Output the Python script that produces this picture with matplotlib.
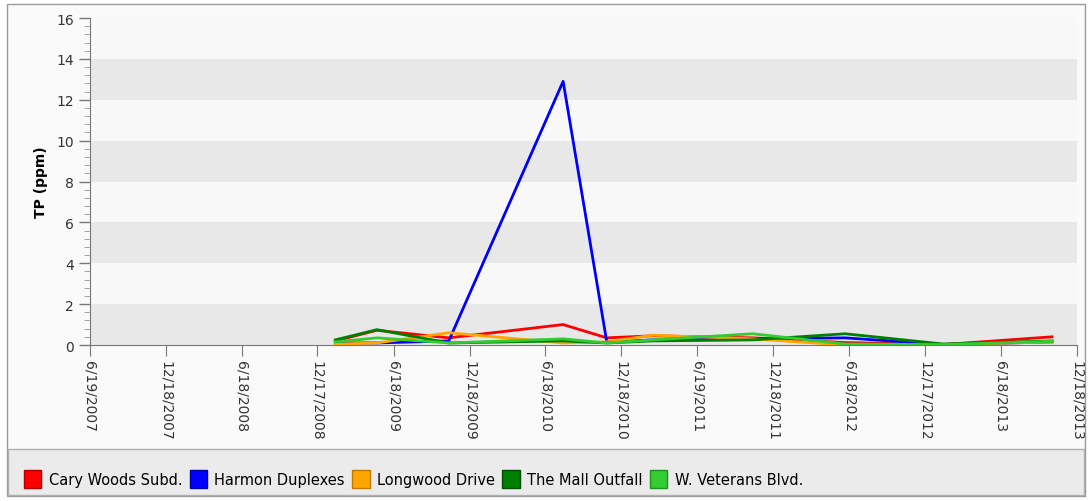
import matplotlib
matplotlib.use("Agg")
import matplotlib.pyplot as plt
import matplotlib.dates as mdates
from matplotlib.patches import Patch, Rectangle
from matplotlib.ticker import MultipleLocator
from datetime import datetime

# sample dates
dates = ["2009-01-29", "2009-05-09", "2009-10-29", "2010-07-31", "2010-11-13",
         "2011-03-04", "2011-10-30", "2012-06-08", "2013-01-29", "2013-10-19"]

cary_woods = [0.20, 0.72, 0.35, 1.00, 0.35, 0.45, 0.35, 0.12, 0.02, 0.40]
harmon = [0.10, 0.10, 0.20, 12.9, 0.15, 0.25, 0.30, 0.35, 0.02, 0.15]
longwood = [0.05, 0.10, 0.60, 0.10, 0.15, 0.48, 0.30, 0.00, 0.02, 0.15]
mall_outfall = [0.25, 0.75, 0.10, 0.20, 0.10, 0.20, 0.25, 0.55, 0.05, 0.20]
veterans = [0.15, 0.35, 0.10, 0.30, 0.10, 0.25, 0.55, 0.05, 0.02, 0.18]

series_names = ["Cary Woods Subd.", "Harmon Duplexes", "Longwood Drive",
                "The Mall Outfall", "W. Veterans Blvd."]
series_colors = ["#ff0000", "#0000ff", "#ffa500", "#008000", "#33cc33"]
edge_colors = ["#b00000", "#0000a0", "#c07800", "#004d00", "#1f8f1f"]

tick_dates = ["2007-06-19", "2007-12-18", "2008-06-18", "2008-12-17", "2009-06-18",
              "2009-12-18", "2010-06-18", "2010-12-18", "2011-06-19", "2011-12-18",
              "2012-06-18", "2012-12-17", "2013-06-18", "2013-12-18"]
tick_labels = ["6/19/2007", "12/18/2007", "6/18/2008", "12/17/2008", "6/18/2009",
               "12/18/2009", "6/18/2010", "12/18/2010", "6/19/2011", "12/18/2011",
               "6/18/2012", "12/17/2012", "6/18/2013", "12/18/2013"]

x = [datetime.strptime(d, "%Y-%m-%d") for d in dates]
xt = [datetime.strptime(d, "%Y-%m-%d") for d in tick_dates]

W, H = 1091, 502
fig = plt.figure(figsize=(W / 100, H / 100), dpi=100)
fig.patch.set_facecolor("white")

# outer chart frame and legend band
fig.patches.append(Rectangle((7 / W, 1 - 497 / H), (1085 - 7) / W, (497 - 5) / H,
                             transform=fig.transFigure, facecolor="#fafafa",
                             edgecolor="#9a9a9a", linewidth=1, zorder=-2))
fig.patches.append(Rectangle((8 / W, 1 - 496 / H), (1084 - 8) / W, (496 - 450) / H,
                             transform=fig.transFigure, facecolor="#ebebeb",
                             edgecolor="#b0b0b0", linewidth=1, zorder=-1))

ax = fig.add_axes([90 / W, 1 - 346 / H, (1077 - 90) / W, (346 - 19) / H])
ax.set_zorder(2)
ax.set_facecolor("#f8f8f8")

# alternating bands
for lo in range(0, 16, 4):
    ax.axhspan(lo, lo + 2, color="#e8e8e8", zorder=0, linewidth=0)

for vals, c in zip([cary_woods, harmon, longwood, mall_outfall, veterans], series_colors):
    ax.plot(x, vals, color=c, linewidth=2, zorder=3)

ax.set_ylim(0, 16)
ax.set_xlim(xt[0], xt[-1])
ax.yaxis.set_major_locator(MultipleLocator(2))
ax.yaxis.set_minor_locator(MultipleLocator(0.4))
ax.set_xticks(mdates.date2num(xt))
ax.set_xticklabels(tick_labels, rotation=270, fontsize=10, color="#333333")
ax.tick_params(axis="y", labelsize=10, labelcolor="#333333", color="#777777",
               length=8, width=1)
ax.tick_params(axis="y", which="minor", length=4, color="#999999")
ax.tick_params(axis="x", length=8, color="#777777", pad=3)
ax.set_ylabel("TP (ppm)", fontsize=10, fontweight="bold", labelpad=6)

for s in ["top", "right"]:
    ax.spines[s].set_visible(False)
ax.spines["left"].set_color("#777777")
ax.spines["bottom"].set_color("#777777")

handles = [Patch(facecolor=c, edgecolor=e, linewidth=1) for c, e in zip(series_colors, edge_colors)]
leg = fig.legend(handles, series_names, loc="center left", bbox_to_anchor=(18 / W, 1 - 480 / H),
                 ncol=5, frameon=False, fontsize=10.5, handlelength=1.2, handleheight=1.5,
                 handletextpad=0.5, columnspacing=0.5, borderaxespad=0)
leg.set_zorder(3)

fig.savefig("out.png", dpi=100)
